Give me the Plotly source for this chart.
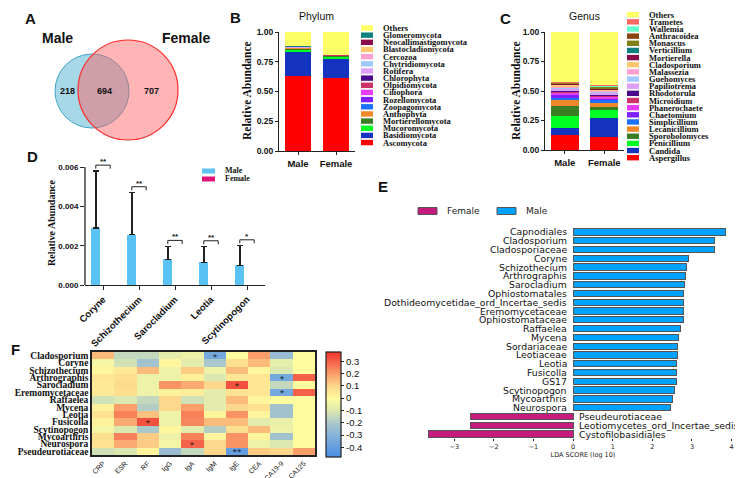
import plotly.graph_objects as go

W, H = 743, 478
def px(p): return p / W
def py(p): return 1 - p / H

SANS = "Liberation Sans"
SERIF = "Liberation Serif"
DJ = "DejaVu Sans"

# ---------------- A: Venn ----------------
venn_groups = ["Male", "Female"]
venn_counts = [218, 694, 707]  # male only, shared, female only

# ---------------- B: Phylum ----------------
groups = ["Male", "Female"]
phylum_taxa = ["Ascomycota", "Basidiomycota", "Mucoromycota", "Mortierellomycota", "Anthophyta",
               "Zoopagomycota", "Rozellomycota", "Ciliophora", "Olpidiomycota", "Chlorophyta",
               "Rotifera", "Chytridiomycota", "Cercozoa", "Blastocladiomycota",
               "Neocallimastigomycota", "Glomeromycota", "Others"]
phylum_colors = ["#FF0000", "#1434C0", "#00FF22", "#3A7D22", "#F0882A", "#1E70FF", "#7F1FFF",
                 "#E53DF5", "#CC3366", "#4B0A8C", "#DDA0F5", "#A0C8FF", "#FF9FCF", "#FFC870",
                 "#8B0A4A", "#0F8080", "#FFFF66"]
phylum_male = [0.63, 0.21, 0.014, 0.008, 0.004, 0.002, 0.002, 0.001, 0.001, 0.001,
               0.001, 0.001, 0.001, 0.001, 0.001, 0.001, 0.121]
phylum_female = [0.61, 0.17, 0.016, 0.005, 0.002, 0.001, 0.001, 0.001, 0.001, 0.0005,
                 0.0005, 0.0005, 0.0005, 0.0005, 0.0005, 0.0005, 0.19]

# ---------------- C: Genus ----------------
genus_taxa = ["Aspergillus", "Candida", "Penicillium", "Sporobolomyces", "Lecanicillium",
              "Simplicillium", "Chaetomium", "Phanerochaete", "Microidium", "Rhodotorula",
              "Papiliotrema", "Guehomyces", "Malassezia", "Cladosporium", "Mortierella",
              "Verticillium", "Monascus", "Anthracoidea", "Wallemia", "Trametes", "Others"]
genus_colors = ["#FF0000", "#1434C0", "#00FF22", "#3A7D22", "#F0882A", "#1E70FF", "#7F1FFF",
                "#E53DF5", "#CC3366", "#4B0A8C", "#DDA0F5", "#A0C8FF", "#FF9FCF", "#FFC870",
                "#8B0A4A", "#0F8080", "#808010", "#8B4513", "#66FFCC", "#FF6666", "#FFFF66"]
genus_male = [0.13, 0.06, 0.095, 0.087, 0.05, 0.025, 0.015, 0.025, 0.005, 0.01, 0.015,
              0.01, 0.015, 0.015, 0.005, 0.003, 0.003, 0.003, 0.002, 0.004, 0.423]
genus_female = [0.106, 0.161, 0.069, 0.029, 0.037, 0.023, 0.012, 0.015, 0.01, 0.01, 0.012,
                0.012, 0.01, 0.008, 0.004, 0.004, 0.012, 0.008, 0.005, 0.004, 0.45]

# ---------------- D: differential genera ----------------
d_genera = ["Coryne", "Schizothecium", "Sarocladium", "Leotia", "Scytinopogon"]
d_male = [0.0029, 0.00255, 0.0013, 0.00115, 0.001]
d_male_sd = [0.0029, 0.00215, 0.00067, 0.0008, 0.001]
d_female = [0, 0, 0, 0, 0]
d_sig = ["**", "**", "**", "**", "*"]
d_ticks = [0, 0.002, 0.004, 0.006]

# ---------------- E: LEfSe ----------------
lda_taxa = ["Capnodiales", "Cladosporium", "Cladosporiaceae", "Coryne", "Schizothecium",
            "Arthrographis", "Sarocladium", "Ophiostomatales",
            "Dothideomycetidae_ord_Incertae_sedis", "Eremomycetaceae", "Ophiostomataceae",
            "Raffaelea", "Mycena", "Sordariaceae", "Leotiaceae", "Leotia", "Fusicolla", "GS17",
            "Scytinopogon", "Mycoarthris", "Neurospora", "Pseudeurotiaceae",
            "Leotiomycetes_ord_Incertae_sedis", "Cystofilobasidiales"]
lda_scores = [3.84, 3.56, 3.56, 2.90, 2.87, 2.83, 2.81, 2.79, 2.79, 2.78, 2.78, 2.72, 2.66,
              2.64, 2.63, 2.62, 2.62, 2.60, 2.56, 2.50, 2.45, -2.60, -2.60, -3.64]
lda_groups = ["Male"] * 21 + ["Female"] * 3
lda_ticks = [-3, -2, -1, 0, 1, 2, 3, 4]

# ---------------- F: correlation heatmap ----------------
f_rows = ["Cladosporium", "Coryne", "Schizothecium", "Arthrographis", "Sarocladium",
          "Eremomycetaceae", "Raffaelea", "Mycena", "Leotia", "Fusicolla", "Scytinopogon",
          "Mycoarthris", "Neurospora", "Pseudeurotiaceae"]
f_cols = ["CRP", "ESR", "RF", "IgG", "IgA", "IgM", "IgE", "CEA", "CA19-9", "CA125"]
f_z = [
    [0.15, -0.15, -0.15, -0.08, -0.05, -0.35, 0.00, 0.20, -0.25, 0.00],
    [-0.03, -0.12, -0.22, 0.02, -0.08, -0.20, 0.08, 0.15, -0.07, 0.00],
    [0.02, 0.05, 0.15, -0.05, 0.12, -0.05, 0.15, 0.02, -0.10, 0.00],
    [0.06, 0.08, -0.05, -0.05, 0.03, -0.10, 0.06, 0.06, -0.35, 0.30],
    [0.05, 0.09, -0.05, 0.22, 0.18, 0.10, 0.33, 0.06, -0.15, 0.00],
    [0.05, 0.08, -0.05, 0.03, 0.04, -0.08, 0.07, 0.06, -0.35, 0.30],
    [-0.12, -0.10, -0.15, 0.10, -0.12, -0.08, 0.15, 0.02, 0.00, 0.00],
    [0.03, 0.20, -0.18, 0.10, 0.20, -0.08, 0.10, 0.07, -0.22, 0.00],
    [0.07, 0.25, 0.14, -0.05, 0.25, 0.02, 0.22, 0.02, -0.22, 0.00],
    [0.03, 0.18, 0.33, -0.05, 0.24, 0.15, 0.15, -0.08, -0.06, 0.00],
    [-0.03, -0.10, -0.20, 0.02, -0.08, -0.18, 0.08, 0.15, -0.05, 0.00],
    [0.08, 0.25, 0.12, -0.05, 0.25, 0.02, 0.22, 0.02, -0.22, 0.00],
    [0.07, 0.18, 0.12, -0.03, 0.30, 0.10, 0.22, -0.05, -0.10, 0.00],
    [-0.12, -0.10, 0.02, -0.25, -0.15, 0.10, -0.40, 0.12, 0.10, 0.20],
]
f_sig = [
    ["", "", "", "", "", "*", "", "", "", ""],
    ["", "", "", "", "", "", "", "", "", ""],
    ["", "", "", "", "", "", "", "", "", ""],
    ["", "", "", "", "", "", "", "", "*", ""],
    ["", "", "", "", "", "", "*", "", "", ""],
    ["", "", "", "", "", "", "", "", "*", ""],
    ["", "", "", "", "", "", "", "", "", ""],
    ["", "", "", "", "", "", "", "", "", ""],
    ["", "", "", "", "", "", "", "", "", ""],
    ["", "", "*", "", "", "", "", "", "", ""],
    ["", "", "", "", "", "", "", "", "", ""],
    ["", "", "", "", "", "", "", "", "", ""],
    ["", "", "", "", "*", "", "", "", "", ""],
    ["", "", "", "", "", "", "**", "", "", ""],
]
cb_ticks = [-0.4, -0.3, -0.2, -0.1, 0, 0.1, 0.2, 0.3]
cb_labels = ["-0.4", "-0.3", "-0.2", "-0.1", "0", "0.1", "0.2", "0.3"]

MALE_D, FEMALE_D = "#5BC2F5", "#E0157A"
MALE_E, FEMALE_E = "#00A2FF", "#C51B7D"

fig = go.Figure()
shapes, annos = [], []

def A(x, y, text, size=9, family=SANS, bold=False, xanchor="center", yanchor="middle",
      angle=0, color="#111"):
    annos.append(dict(x=px(x), y=py(y), xref="paper", yref="paper", text=text, showarrow=False,
                      xanchor=xanchor, yanchor=yanchor, textangle=angle,
                      font=dict(family=family, size=size, color=color,
                                weight="bold" if bold else "normal")))

# ---- Panel A: Venn
shapes.append(dict(type="circle", xref="paper", yref="paper", x0=px(47), x1=px(121),
                   y0=py(120), y1=py(46), fillcolor="rgba(120,195,220,0.65)",
                   line=dict(color="#3FA6C8", width=1)))
shapes.append(dict(type="circle", xref="paper", yref="paper", x0=px(70), x1=px(170),
                   y0=py(132), y1=py(32), fillcolor="rgba(255,90,90,0.45)",
                   line=dict(color="#FF2A2A", width=1.2)))
A(49, 30, venn_groups[0], size=14, bold=True)
A(178, 30, venn_groups[1], size=14, bold=True)
A(60, 83, str(venn_counts[0]), size=9, bold=True)
A(96, 83, str(venn_counts[1]), size=9, bold=True)
A(143, 83, str(venn_counts[2]), size=9, bold=True)

# ---- Panel B & C: stacked bars
for taxa, cols, mv, fv, xa, ya in [(phylum_taxa, phylum_colors, phylum_male, phylum_female, "x", "y"),
                                   (genus_taxa, genus_colors, genus_male, genus_female, "x2", "y2")]:
    for i, t in enumerate(taxa):
        fig.add_trace(go.Bar(x=groups, y=[mv[i], fv[i]], name=t, marker=dict(color=cols[i], line=dict(width=0)),
                             width=0.7, xaxis=xa, yaxis=ya, showlegend=False))

def stack_legend(taxa, cols, box_x, text_x, y_top, step):
    for k, t in enumerate(reversed(taxa)):
        c = list(reversed(cols))[k]
        yc = y_top + k * step
        shapes.append(dict(type="rect", xref="paper", yref="paper", x0=px(box_x), x1=px(box_x + 12),
                           y0=py(yc + 2.7), y1=py(yc - 2.7), fillcolor=c, line=dict(width=0)))
        A(text_x, yc, t, size=8.5, family=SERIF, bold=True, xanchor="left")

stack_legend(phylum_taxa, phylum_colors, 353, 373, 20, 7.16)
stack_legend(genus_taxa, genus_colors, 619, 639, 6.7, 7.15)
A(308, 8, "Phylum", size=10.5)
A(576, 8, "Genus", size=10.5)
A(239, 83, "Relative Abundance", size=11.5, family=SERIF, bold=True, angle=-90)
A(508, 83, "Relative Abundance", size=11.5, family=SERIF, bold=True, angle=-90)

# ---- Panel D
fig.add_trace(go.Bar(x=d_genera, y=d_male, name="Male", marker=dict(color=MALE_D), width=0.25,
                     offset=-0.32, xaxis="x3", yaxis="y3", showlegend=False,
                     error_y=dict(type="data", symmetric=False, array=d_male_sd,
                                  arrayminus=[0] * len(d_male), color="#222", thickness=1.2, width=3)))
fig.add_trace(go.Bar(x=d_genera, y=d_female, name="Female", marker=dict(color=FEMALE_D), width=0.25,
                     offset=0.07, xaxis="x6", yaxis="y3", showlegend=False))
shapes.append(dict(type="line", xref="x3 domain", yref="y3", x0=0, x1=0, y0=d_ticks[0],
                   y1=d_ticks[-1], line=dict(color="#222", width=1.3)))
for i, g in enumerate(d_genera):
    yb = d_male[i] + d_male_sd[i] + 0.0003
    leg = 0.00018
    for (x0, x1, y0, y1) in [(i - 0.2, i + 0.2, yb, yb), (i - 0.2, i - 0.2, yb - leg, yb),
                             (i + 0.2, i + 0.2, yb - leg, yb)]:
        shapes.append(dict(type="line", xref="x3", yref="y3", x0=x0, x1=x1, y0=y0, y1=y1,
                           line=dict(color="#222", width=1)))
    annos.append(dict(x=i, y=yb, xref="x3", yref="y3", text=d_sig[i], showarrow=False,
                      yanchor="bottom", yshift=-3,
                      font=dict(family=SANS, size=8, color="#111", weight="bold")))
A(43, 215, "Relative Abundance", size=10, family=SERIF, bold=True, angle=-90)
for k, (lab, col) in enumerate([("Male", MALE_D), ("Female", FEMALE_D)]):
    yc = 163 + k * 8
    shapes.append(dict(type="rect", xref="paper", yref="paper", x0=px(194), x1=px(207),
                       y0=py(yc + 2.5), y1=py(yc - 2.5), fillcolor=col, line=dict(width=0)))
    A(215, yc, lab, size=8, family=SERIF, bold=True, xanchor="left")

# ---- Panel E
for grp, col in [("Male", MALE_E), ("Female", FEMALE_E)]:
    ys = [t for t, g in zip(lda_taxa, lda_groups) if g == grp]
    xs = [s for s, g in zip(lda_scores, lda_groups) if g == grp]
    fig.add_trace(go.Bar(x=xs, y=ys, orientation="h", name=grp, width=0.72,
                         marker=dict(color=col, line=dict(color="#555", width=1)),
                         xaxis="x4", yaxis="y4", showlegend=False))
for t, s in zip(lda_taxa, lda_scores):
    annos.append(dict(x=0, y=t, xref="x4", yref="y4", text=t, showarrow=False,
                      xanchor="right" if s > 0 else "left", xshift=-4 if s > 0 else 4,
                      font=dict(family=DJ, size=9.3, color="#111")))
for lab, col, bx in [("Female", FEMALE_E, 410), ("Male", MALE_E, 489)]:
    shapes.append(dict(type="rect", xref="paper", yref="paper", x0=px(bx), x1=px(bx + 19),
                       y0=py(206.5), y1=py(199.5), fillcolor=col, line=dict(color="#555", width=1)))
    A(bx + 27, 203, lab, size=9, family=DJ, xanchor="left", color="#222")

# ---- Panel F
colorscale = [[0, "#4A8FE6"], [0.205, "#86B2DA"], [0.32, "#A9C7CB"], [0.44, "#DCE8B0"],
              [0.556, "#FFFCA0"], [0.67, "#FDD88C"], [0.79, "#FA9F6A"], [0.906, "#F5624A"],
              [1, "#F0342E"]]
fig.add_trace(go.Heatmap(z=f_z, x=f_cols, y=f_rows, text=f_sig, texttemplate="%{text}",
                         textfont=dict(size=8, color="#111"), colorscale=colorscale,
                         zmin=-0.475, zmax=0.38, xaxis="x5", yaxis="y5", hoverongaps=False,
                         colorbar=dict(x=px(318), xanchor="left", xpad=0, ypad=0, thickness=15,
                                       thicknessmode="pixels", len=105 / H,
                                       lenmode="fraction", y=py(396), yanchor="middle",
                                       outlinewidth=1.2, outlinecolor="#222",
                                       tickvals=cb_ticks, ticktext=cb_labels, ticks="outside",
                                       ticklen=3, tickcolor="#222",
                                       tickfont=dict(family=SANS, size=9.5, color="#111"))))

# ---- Panel letters
for L, x, y in [("A", 22, 10), ("B", 227, 9), ("C", 497, 10), ("D", 24, 148),
                ("E", 375, 178), ("F", 7, 341)]:
    A(x, y, L, size=15, bold=True)

ax_common = dict(showgrid=False, zeroline=False, linecolor="#222", tickcolor="#222")
tick_bold = lambda s: dict(family=SANS, size=s, color="#111", weight="bold")

fig.update_layout(
    width=W, height=H, margin=dict(l=0, r=0, t=0, b=0),
    paper_bgcolor="white", plot_bgcolor="rgba(0,0,0,0)", barmode="stack",
    showlegend=False, template="none",
    shapes=shapes, annotations=annos,
    xaxis=dict(domain=[px(271), px(347)], anchor="y", type="category", range=[-0.5, 1.5],
               showline=True, linewidth=1.2, ticks="outside", ticklen=3,
               tickfont=tick_bold(9.5), **ax_common),
    yaxis=dict(domain=[py(143), py(24)], anchor="x", range=[0, 1],
               tickvals=[0, 0.25, 0.5, 0.75, 1], tickformat=".2f", showline=True,
               linewidth=1.2, ticks="outside", ticklen=3, tickfont=tick_bold(8.5), **ax_common),
    xaxis2=dict(domain=[px(537), px(616)], anchor="y2", type="category", range=[-0.5, 1.5],
                showline=True, linewidth=1.2, ticks="outside", ticklen=3,
                tickfont=tick_bold(9.5), **ax_common),
    yaxis2=dict(domain=[py(142), py(24)], anchor="x2", range=[0, 1],
                tickvals=[0, 0.25, 0.5, 0.75, 1], tickformat=".2f", showline=True,
                linewidth=1.2, ticks="outside", ticklen=3, tickfont=tick_bold(8.5), **ax_common),
    xaxis3=dict(domain=[px(77), px(257)], anchor="y3", type="category",
                categoryorder="array", categoryarray=d_genera, range=[-0.5, 4.5],
                showline=True, linewidth=1.3, ticks="outside", ticklen=4, tickangle=-45,
                tickfont=tick_bold(9.5), **ax_common),
    xaxis6=dict(overlaying="x3", matches="x3", anchor="y3", type="category",
                categoryorder="array", categoryarray=d_genera, visible=False,
                showgrid=False, zeroline=False),
    yaxis3=dict(domain=[py(277), py(147.3)], anchor="x3", range=[0, 0.0066],
                tickvals=d_ticks, tickformat=".3f", showline=False, ticks="outside", ticklen=4,
                tickfont=tick_bold(8), **ax_common),
    xaxis4=dict(domain=[px(407), px(743)], anchor="y4", range=[-3.99, 4.49],
                tickvals=lda_ticks, showline=False, ticks="outside", ticklen=2,
                tickfont=dict(family=DJ, size=6.5, color="#222"),
                title=dict(text="LDA SCORE (log 10)", standoff=2,
                           font=dict(family=DJ, size=6.5, color="#222")), **ax_common),
    yaxis4=dict(domain=[py(430.4), py(219.6)], anchor="x4", type="category",
                categoryorder="array", categoryarray=lda_taxa, range=[23.5, -0.5],
                showticklabels=False, ticks="", showline=False, **ax_common),
    xaxis5=dict(domain=[px(84), px(307)], anchor="y5", type="category", showline=True,
                mirror=True, linewidth=1.5, ticks="", tickangle=-45,
                tickfont=dict(family=SANS, size=7, color="#111"), **ax_common),
    yaxis5=dict(domain=[py(447), py(344)], anchor="x5", type="category", autorange="reversed",
                tickmode="array", tickvals=f_rows, ticktext=f_rows, showline=True, mirror=True,
                linewidth=1.5, ticks="",
                tickfont=dict(family=SERIF, size=9.5, color="#111", weight="bold"), **ax_common),
)

fig.write_html("out.html")
